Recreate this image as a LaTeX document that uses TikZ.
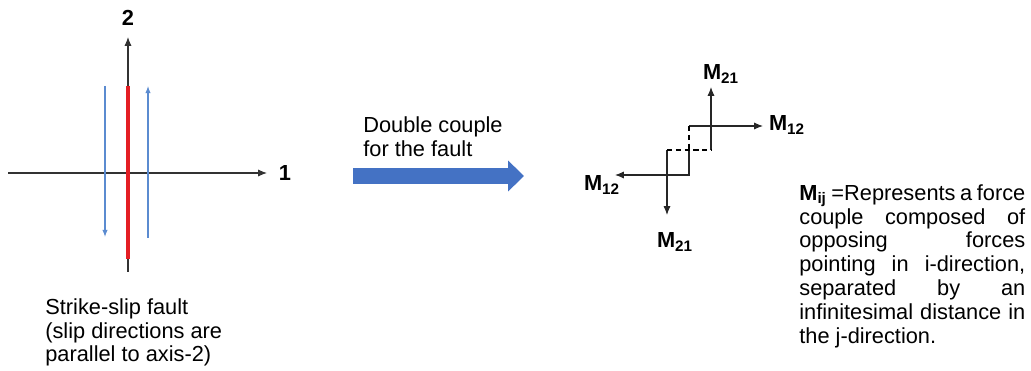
\documentclass[tikz,border=0pt]{standalone}
\usepackage{fontspec}
\setmainfont{Liberation Sans}
\usetikzlibrary{arrows.meta}
\definecolor{faultred}{RGB}{228,30,36}
\definecolor{slipblue}{RGB}{91,139,208}
\definecolor{bigblue}{RGB}{68,114,196}
\definecolor{axisgray}{RGB}{50,50,50}
\tikzset{
	axis/.style={draw=axisgray, line width=0.6pt, -{Latex[length=5pt,width=4pt]}},
	slip/.style={draw=slipblue, line width=0.6pt, -{Latex[length=4pt,width=3pt]}},
	couple/.style={draw=black!85, line width=0.6pt, -{Latex[length=5pt,width=4pt]}},
	bigarrow/.style={draw=bigblue, line width=9pt, -{Triangle[length=9pt,width=17pt]}},
	lbl/.style={font=\fontsize{12.4}{13.6}\selectfont\bfseries, inner sep=0pt},
	txt/.style={font=\fontsize{12.4}{13.6}\selectfont, inner sep=0pt, align=left},
}
\begin{document}
\begin{tikzpicture}[x=0.02cm, y=-0.02cm]
	\useasboundingbox (0,0) rectangle (1031,371);
	
	% axes and fault
	\coordinate (xs) at (8,173);
	\coordinate (xe) at (267,173);
	\coordinate (ys) at (128,272);
	\coordinate (ye) at (128,37);
	\node[lbl] (one) at (285,173) {1};
	\node[lbl] (two) at (128,18) {2};
	\draw[axis] (xs) -- (xe);
	\draw[axis] (ys) -- (ye);
	
	\coordinate (ft) at (128,86);
	\coordinate (fb) at (128,259);
	\draw[faultred, line width=1.8pt] (ft) -- (fb);
	
	\coordinate (ls) at (105,86);
	\coordinate (le) at (105,237);
	\coordinate (rs) at (148,238);
	\coordinate (re) at (148,86);
	\draw[slip] (ls) -- (le);
	\draw[slip] (rs) -- (re);
	
	\node[txt, anchor=north west] (fault) at (45,298)
		{Strike-slip fault\\(slip directions are\\parallel to axis-2)};
	
	% double couple arrow
	\node[txt, anchor=north west] (dc) at (363,116) {Double couple\\for the fault};
	\coordinate (as) at (353,176);
	\coordinate (ae) at (524,176);
	\draw[bigarrow] (as) -- (ae);
	
	% force couples
	\coordinate (p1) at (667,150);
	\coordinate (p2) at (689,150);
	\coordinate (p3) at (711,150);
	\coordinate (q1) at (689,126);
	\coordinate (q2) at (689,175);
	\coordinate (tu) at (711,87);
	\coordinate (tr) at (763,126);
	\coordinate (tl) at (615,175);
	\coordinate (td) at (667,215);
	
	\draw[couple] (p3) -- (tu);
	\draw[couple] (q1) -- (tr);
	\draw[couple] (p2) -- (q2) -- (tl);
	\draw[couple] (p1) -- (td);
	\draw[densely dashed, line width=0.6pt] (q1) -- (p2);
	\draw[densely dashed, line width=0.6pt] (p1) -- (p3);
	
	\node[lbl] (mu) at (721,74) {M\textsubscript{21}};
	\node[lbl] (mr) at (787,125) {M\textsubscript{12}};
	\node[lbl] (ml) at (602,185) {M\textsubscript{12}};
	\node[lbl] (md) at (675,242) {M\textsubscript{21}};
	
	\node[txt, anchor=north west, text width=4.52cm, align=justify] (mij) at (799,184)
		{\textbf{M\textsubscript{ij}} =Represents a force\linebreak
		couple composed of\linebreak
		opposing forces\linebreak
		pointing in i-direction,\linebreak
		separated by an\linebreak
		infinitesimal distance in\linebreak
		the j-direction.};
\end{tikzpicture}
\end{document}
